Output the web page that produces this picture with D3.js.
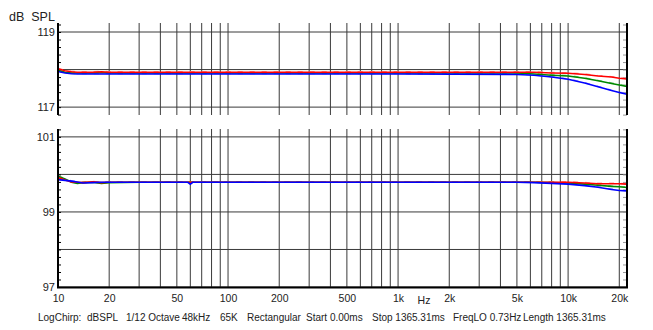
<!DOCTYPE html>
<html>
<head>
<meta charset="utf-8">
<script src="https://cdn.jsdelivr.net/npm/d3@7"></script>
<style>
  html, body { margin: 0; padding: 0; background: #fff; }
  svg { display: block; font-family: "Liberation Sans", Arial, sans-serif; }
</style>
</head>
<body>
<div id="chart"></div>
<script>
// frequencies (Hz) shared by every trace
const freqs = [10, 11, 12, 13, 14, 16, 18, 20, 30, 50, 58, 60, 62, 100, 1000, 5000, 6300, 8000, 10000, 12500, 15000, 18000, 20000, 22200];

// upper panel, dB SPL
const topRed   = [118.02,117.97,117.94,117.93,117.93,117.93,117.94,117.93,117.93,117.93,117.93,117.93,117.93,117.93,117.93,117.93,117.93,117.91,117.90,117.87,117.83,117.80,117.77,117.75];
const topGreen = [117.98,117.93,117.91,117.91,117.91,117.91,117.92,117.91,117.91,117.91,117.91,117.91,117.91,117.91,117.91,117.91,117.88,117.85,117.83,117.77,117.70,117.63,117.59,117.55];
const topBlue  = [117.95,117.91,117.89,117.88,117.88,117.88,117.88,117.88,117.88,117.88,117.88,117.88,117.88,117.88,117.88,117.87,117.85,117.80,117.74,117.64,117.54,117.44,117.39,117.34];

// lower panel, dB SPL
const botRed   = [99.92,99.85,99.80,99.79,99.78,99.80,99.78,99.79,99.79,99.79,99.79,99.79,99.79,99.79,99.79,99.79,99.79,99.79,99.79,99.77,99.75,99.75,99.75,99.74];
const botGreen = [99.95,99.88,99.79,99.76,99.78,99.79,99.76,99.78,99.79,99.79,99.79,99.79,99.79,99.79,99.79,99.79,99.79,99.78,99.77,99.74,99.71,99.68,99.67,99.65];
const botBlue  = [99.86,99.84,99.82,99.80,99.77,99.78,99.79,99.79,99.79,99.79,99.79,99.74,99.79,99.79,99.79,99.79,99.78,99.76,99.74,99.70,99.66,99.60,99.57,99.56];

const xTickVals = [10, 20, 50, 100, 200, 500, 1000, 2000, 5000, 10000, 20000];
const xTickText = ["10", "20", "50", "100", "200", "500", "1k", "2k", "5k", "10k", "20k"];
const topLabels = [117, 119];
const botLabels = [97, 99, 101];
const footer = [
  ["LogChirp:", 38], ["dBSPL", 87], ["1/12 Octave", 126], ["48kHz", 182], ["65K", 220],
  ["Rectangular", 247], ["Start 0.00ms", 306], ["Stop 1365.31ms", 372],
  ["FreqLO 0.73Hz", 453], ["Length 1365.31ms", 523]
];

const width = 653, height = 330;
const left = 58, right = 627;
const font = "Liberation Sans, Arial, sans-serif";

const x = d3.scaleLog([10, 22200], [left, right]);
const panels = [
  { y: d3.scaleLinear([116.79, 119.24], [115, 23]), labels: topLabels, series: [topGreen, topRed, topBlue] },
  { y: d3.scaleLinear([97, 101.21], [287, 129]), labels: botLabels, series: [botGreen, botRed, botBlue] }
];
const colors = ["#008800", "#ff0000", "#0000ff"];
const pale = ["#88cc88", "#ff9a9a", "#9a9aff"];

// grid frequencies 20..90, 100..900, 1k..9k, 10k, 20k
const gridFreqs = [];
for (const dec of [10, 100, 1000]) for (let k = 1; k < 10; k++) if (dec * k > 10) gridFreqs.push(dec * k);
gridFreqs.push(10000, 20000);

const svg = d3.select("#chart").append("svg")
  .attr("width", width).attr("height", height)
  .attr("viewBox", [0, 0, width, height]);

svg.append("text")
  .attr("x", 9).attr("y", 21)
  .attr("font-size", 12.5)
  .attr("fill", "#222")
  .attr("xml:space", "preserve")
  .text("dB  SPL");

panels.forEach(p => {
  const [y0, y1] = p.y.range();
  const g = svg.append("g");

  // vertical grid
  g.append("g").selectAll("line").data(gridFreqs)
    .join("line")
    .attr("x1", d => x(d)).attr("x2", d => x(d))
    .attr("y1", y1).attr("y2", y0)
    .attr("stroke", "#3a3a3a").attr("stroke-width", 1);

  // horizontal grid at every dB
  const [d0, d1] = p.y.domain();
  const hLines = d3.range(Math.ceil(d0), Math.floor(d1) + 1);
  g.append("g").selectAll("line").data(hLines)
    .join("line")
    .attr("x1", left).attr("x2", right)
    .attr("y1", d => p.y(d)).attr("y2", d => p.y(d))
    .attr("stroke", "#3a3a3a").attr("stroke-width", 1);

  // minor ticks every 0.2 dB
  const minor = d3.range(Math.ceil(d0 * 5), Math.floor(d1 * 5) + 1).map(v => v / 5);
  g.append("g").call(d3.axisRight(p.y).tickValues(minor).tickSize(3).tickFormat(""))
    .attr("transform", `translate(${left},0)`)
    .call(a => a.select(".domain").remove())
    .call(a => a.selectAll("line").attr("stroke", "#000"));
  g.append("g").call(d3.axisLeft(p.y).tickValues(minor).tickSize(4).tickFormat(""))
    .attr("transform", `translate(${right},0)`)
    .call(a => a.select(".domain").remove())
    .call(a => a.selectAll("line").attr("stroke", "#999"));

  // labels
  g.append("g").call(d3.axisLeft(p.y).tickValues(p.labels).tickSize(0).tickPadding(3).tickFormat(d3.format("d")))
    .attr("transform", `translate(${left},0)`)
    .call(a => a.select(".domain").remove())
    .call(a => a.selectAll("text").attr("font-size", 11).attr("font-family", font).attr("fill", "#222"));

  // traces
  const line = d3.line().x((d, i) => x(freqs[i])).y(d => p.y(d));
  p.series.forEach((s, k) => {
    g.append("path")
      .attr("d", line(s.map(v => v + 0.012)))
      .attr("fill", "none").attr("stroke", pale[k])
      .attr("stroke-width", 1.5).attr("stroke-dasharray", "5,7");
  });
  p.series.forEach((s, k) => {
    g.append("path")
      .attr("d", line(s))
      .attr("fill", "none").attr("stroke", colors[k])
      .attr("stroke-width", 1.6);
  });

  // frame: left and right axis lines
  g.append("line").attr("x1", left).attr("x2", left).attr("y1", y1).attr("y2", y0)
    .attr("stroke", "#000").attr("stroke-width", 2);
  g.append("line").attr("x1", right).attr("x2", right).attr("y1", y1).attr("y2", y0)
    .attr("stroke", "#000").attr("stroke-width", 2);
});

// bottom axis
svg.append("line").attr("x1", left - 1).attr("x2", right + 1).attr("y1", 287.5).attr("y2", 287.5)
  .attr("stroke", "#000").attr("stroke-width", 2);

svg.append("g")
  .attr("transform", "translate(0,292)")
  .call(d3.axisBottom(x).tickValues(xTickVals).tickSize(0).tickPadding(3)
    .tickFormat((d, i) => xTickText[i]))
  .call(a => a.select(".domain").remove())
  .call(a => a.selectAll("text").attr("font-size", 10.5).attr("font-family", font).attr("fill", "#222"));

svg.append("text")
  .attr("x", 424).attr("y", 304)
  .attr("text-anchor", "middle")
  .attr("font-size", 10.5).attr("fill", "#222")
  .text("Hz");

svg.append("g").selectAll("text").data(footer)
  .join("text")
  .attr("x", d => d[1]).attr("y", 321)
  .attr("font-size", 10).attr("fill", "#222")
  .text(d => d[0]);
</script>
</body>
</html>
